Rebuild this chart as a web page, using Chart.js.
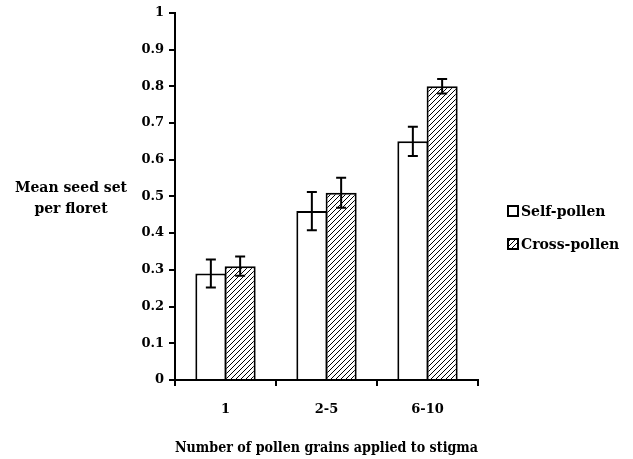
<!DOCTYPE html>
<html>
<head>
<meta charset="utf-8">
<script src="https://cdn.jsdelivr.net/npm/chart.js@4.4.1/dist/chart.umd.min.js"></script>
<style>
  body { margin: 0; background: #fff; }
  #wrap { width: 633px; height: 459px; }
</style>
</head>
<body>
<div id="wrap"><canvas id="grafico" width="633" height="459"></canvas></div>
<script>
// dados
const categorias = ['1', '2-5', '6-10'];
const selfPollen = [0.29, 0.46, 0.65];
const selfErro = [0.038, 0.052, 0.04];
const crossPollen = [0.31, 0.51, 0.80];
const crossErro = [0.026, 0.041, 0.02];
const yTicks = [0, 0.1, 0.2, 0.3, 0.4, 0.5, 0.6, 0.7, 0.8, 0.9, 1];

const fonte = '"DejaVu Serif", "Liberation Serif", serif';

// hachura diagonal ////
function criarHachura() {
    const s = 5;
    const tile = document.createElement('canvas');
    tile.width = s; tile.height = s;
    const c = tile.getContext('2d');
    c.fillStyle = '#fff';
    c.fillRect(0, 0, s, s);
    c.strokeStyle = '#000';
    c.lineWidth = 1;
    c.beginPath();
    c.moveTo(0, s); c.lineTo(s, 0);
    c.moveTo(-1, 1); c.lineTo(1, -1);
    c.moveTo(s - 1, s + 1); c.lineTo(s + 1, s - 1);
    c.stroke();
    return c.createPattern(tile, 'repeat');
}
const hachura = criarHachura();

const errosPlugin = {
    id: 'erros',
    afterDatasetsDraw(chart) {
        const ctx = chart.ctx;
        const y = chart.scales.y;
        const erros = [selfErro, crossErro];
        ctx.save();
        ctx.strokeStyle = '#000';
        ctx.lineWidth = 2;
        chart.data.datasets.forEach((ds, i) => {
            const meta = chart.getDatasetMeta(i);
            meta.data.forEach((bar, j) => {
                const v = ds.data[j], e = erros[i][j];
                const x = bar.x;
                const yt = y.getPixelForValue(v + e);
                const yb = y.getPixelForValue(v - e);
                ctx.beginPath();
                ctx.moveTo(x, yt); ctx.lineTo(x, yb);
                ctx.moveTo(x - 5, yt); ctx.lineTo(x + 5, yt);
                ctx.moveTo(x - 5, yb); ctx.lineTo(x + 5, yb);
                ctx.stroke();
            });
        });
        ctx.restore();
    }
};

const textosPlugin = {
    id: 'textos',
    afterDraw(chart) {
        const ctx = chart.ctx;
        ctx.save();
        ctx.fillStyle = '#000';
        ctx.font = 'bold 14px ' + fonte;
        ctx.textAlign = 'center';
        ctx.textBaseline = 'middle';
        ctx.fillText('Mean seed set', 71, 188);
        ctx.fillText('per floret', 71, 209);

        // legenda
        const itens = [
            { label: 'Self-pollen', fill: '#fff', y: 211 },
            { label: 'Cross-pollen', fill: hachura, y: 244 }
        ];
        ctx.textAlign = 'left';
        itens.forEach(it => {
            ctx.fillStyle = it.fill;
            ctx.fillRect(508, it.y - 5, 10, 10);
            ctx.strokeStyle = '#000';
            ctx.lineWidth = 2;
            ctx.strokeRect(508, it.y - 5, 10, 10);
            ctx.fillStyle = '#000';
            ctx.fillText(it.label, 521, it.y + 1);
        });
        ctx.restore();
    }
};

new Chart(document.getElementById('grafico'), {
    type: 'bar',
    data: {
        labels: categorias,
        datasets: [{
            label: 'Self-pollen',
            data: selfPollen,
            backgroundColor: '#fff',
            borderColor: '#000',
            borderWidth: 2,
            borderSkipped: 'bottom',
            barPercentage: 1.06,
            categoryPercentage: 0.58
        }, {
            label: 'Cross-pollen',
            data: crossPollen,
            backgroundColor: hachura,
            borderColor: '#000',
            borderWidth: 2,
            borderSkipped: 'bottom',
            barPercentage: 1.06,
            categoryPercentage: 0.58
        }]
    },
    options: {
        responsive: false,
        animation: false,
        layout: { padding: { top: 8, right: 155, bottom: 9, left: 0 } },
        plugins: {
            legend: { display: false },
            tooltip: { enabled: false }
        },
        scales: {
            y: {
                min: 0,
                max: 1,
                afterBuildTicks(scale) {
                    scale.ticks = yTicks.map(v => ({ value: v }));
                },
                afterFit(scale) { scale.width = 175; },
                ticks: {
                    color: '#000',
                    padding: 5,
                    font: { family: fonte, size: 13, weight: 'bold' },
                    callback: v => String(v)
                },
                grid: {
                    drawOnChartArea: false,
                    drawTicks: true,
                    tickLength: 6,
                    color: '#000',
                    lineWidth: 2
                },
                border: { color: '#000', width: 2 }
            },
            x: {
                afterFit(scale) { scale.height = 70; },
                ticks: {
                    color: '#000',
                    padding: 16,
                    font: { family: fonte, size: 13, weight: 'bold' }
                },
                grid: {
                    offset: true,
                    drawOnChartArea: false,
                    drawTicks: true,
                    tickLength: 6,
                    color: '#000',
                    lineWidth: 2
                },
                border: { color: '#000', width: 2 },
                title: {
                    display: true,
                    text: 'Number of pollen grains applied to stigma',
                    color: '#000',
                    padding: { top: 4, bottom: -7 },
                    font: { family: fonte, size: 14, weight: 'bold' }
                }
            }
        }
    },
    plugins: [errosPlugin, textosPlugin]
});
</script>
</body>
</html>
